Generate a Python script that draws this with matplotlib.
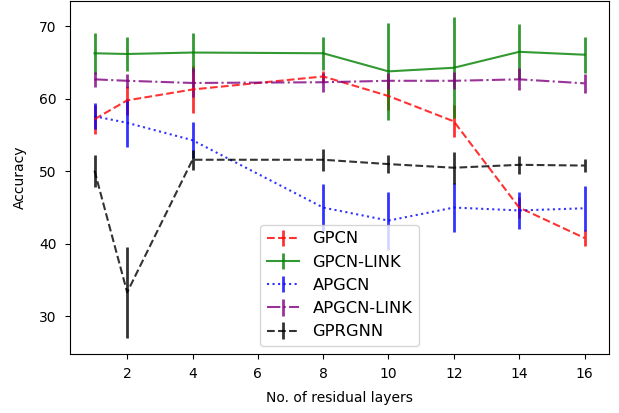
import matplotlib
matplotlib.use("Agg")
import matplotlib.pyplot as plt

layers = [1, 2, 4, 8, 10, 12, 14, 16]

gpcn = [57.2, 59.8, 61.3, 63.1, 60.4, 56.9, 45.0, 40.8]
gpcn_err = [2.0, 2.0, 3.3, 0.7, 2.0, 2.2, 1.5, 1.1]

gpcn_link = [66.3, 66.2, 66.4, 66.3, 63.8, 64.3, 66.5, 66.1]
gpcn_link_err = [2.8, 2.4, 2.7, 2.3, 6.7, 7.0, 3.8, 2.5]

apgcn = [57.6, 56.7, 54.3, 45.0, 43.2, 45.0, 44.6, 44.9]
apgcn_err = [1.8, 3.3, 2.5, 3.3, 4.0, 3.4, 2.5, 3.1]

apgcn_link = [62.7, 62.5, 62.2, 62.3, 62.5, 62.5, 62.7, 62.15]
apgcn_link_err = [1.0, 1.0, 2.0, 1.3, 1.1, 1.2, 1.5, 1.35]

gprgnn = [50.1, 33.3, 51.6, 51.6, 51.0, 50.5, 50.9, 50.8]
gprgnn_err = [2.2, 6.3, 1.4, 1.5, 1.2, 2.2, 1.2, 0.9]

series = [
    ("GPCN", gpcn, gpcn_err, "red", "--"),
    ("GPCN-LINK", gpcn_link, gpcn_link_err, "green", "-"),
    ("APGCN", apgcn, apgcn_err, "blue", ":"),
    ("APGCN-LINK", apgcn_link, apgcn_link_err, "purple", "-."),
    ("GPRGNN", gprgnn, gprgnn_err, "black", "--"),
]

W, H = 619, 413
dpi = 100
fig = plt.figure(figsize=(W / dpi, H / dpi), dpi=dpi)
ax = fig.add_axes([70 / W, 1 - 354 / H, (609 - 70) / W, (354 - 1) / H])
for name, vals, err, col, ls in series:
    ax.errorbar(layers, vals, yerr=err, color=col, linestyle=ls, alpha=0.8,
                linewidth=1.5, elinewidth=2, label=name)
ax.set_xticks([2, 4, 6, 8, 10, 12, 14, 16])
ax.set_yticks([30, 40, 50, 60, 70])
ax.tick_params(axis="both", pad=6)
ax.set_xlabel("No. of residual layers", labelpad=7)
ax.set_ylabel("Accuracy", labelpad=9)
ax.legend(loc="lower center", fontsize=11.8)
fig.savefig("out.png", dpi=dpi)
